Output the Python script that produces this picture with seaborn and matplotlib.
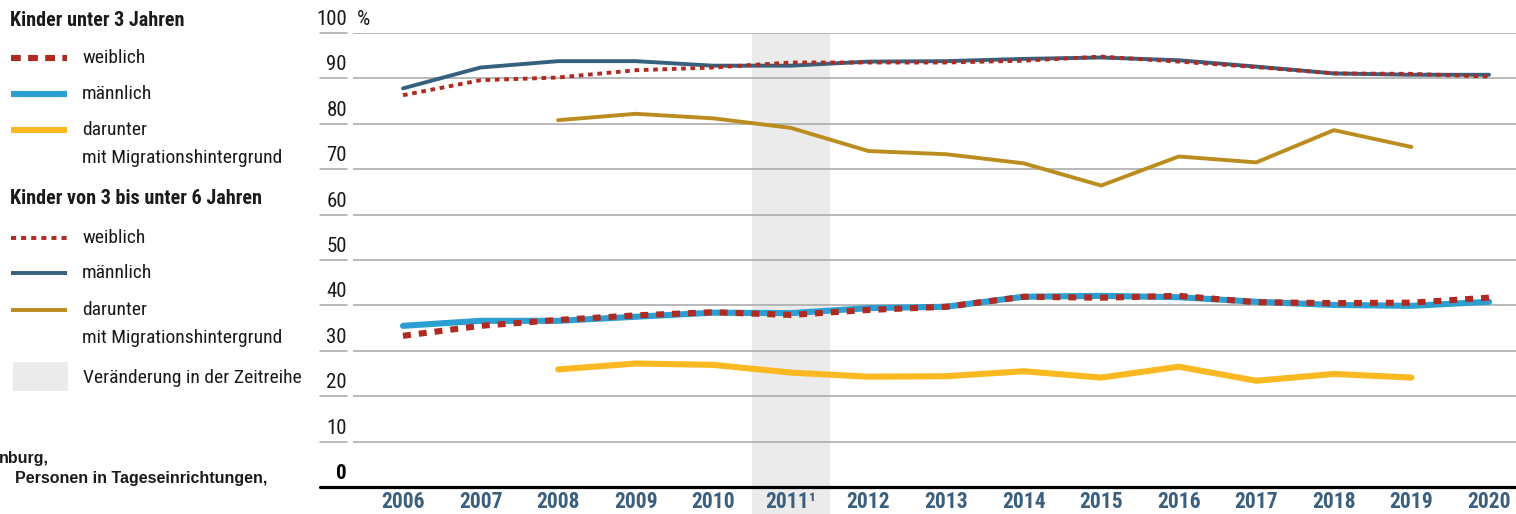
import numpy as np
import pandas as pd
import seaborn as sns
import matplotlib.pyplot as plt
import matplotlib.transforms as mtransforms
from matplotlib import font_manager
from matplotlib.lines import Line2D
from matplotlib.patches import Rectangle

# Daten (Betreuungsquote in %)
jahre = list(range(2006, 2021))
jahr_labels = ["2006", "2007", "2008", "2009", "2010", "2011\u00b9", "2012", "2013",
               "2014", "2015", "2016", "2017", "2018", "2019", "2020"]

u3_weiblich = [33.3, 35.5, 36.8, 37.8, 38.5, 37.9, 39.0, 39.7, 41.9, 41.7, 42.1, 40.7, 40.5, 40.6, 41.7]
u3_maennlich = [35.5, 36.6, 36.6, 37.5, 38.4, 38.3, 39.4, 39.7, 41.9, 42.1, 41.8, 40.8, 40.1, 39.9, 40.8]
u3_migration = [np.nan, np.nan, 25.9, 27.2, 26.9, 25.2, 24.3, 24.4, 25.5, 24.1, 26.5, 23.4, 24.9, 24.1, np.nan]

u6_weiblich = [86.3, 89.6, 90.2, 91.8, 92.4, 93.5, 93.5, 93.5, 93.9, 94.8, 93.7, 92.5, 91.1, 91.0, 90.4]
u6_maennlich = [87.8, 92.4, 93.8, 93.8, 92.8, 92.8, 93.7, 93.8, 94.3, 94.6, 94.0, 92.6, 91.1, 90.8, 90.8]
u6_migration = [np.nan, np.nan, 80.8, 82.2, 81.2, 79.1, 74.0, 73.3, 71.3, 66.4, 72.8, 71.5, 78.6, 74.9, np.nan]

bruch_jahr = 2011

ROT = "#b02a22"
HELLBLAU = "#2b9fd1"
GELB = "#fbb921"
DUNKELBLAU = "#35617e"
GOLD = "#bb8c1e"
GRAU = "#a6a6a6"
TEXT = "#1a1a1a"

df = pd.DataFrame({
    "jahr": jahre,
    "u3_w": u3_weiblich, "u3_m": u3_maennlich, "u3_mig": u3_migration,
    "u6_w": u6_weiblich, "u6_m": u6_maennlich, "u6_mig": u6_migration,
})

# schmale Schrift suchen, sonst Liberation Sans
installiert = {f.name for f in font_manager.fontManager.ttflist}
schmal = "Liberation Sans"
for kandidat in ["Liberation Sans Narrow", "Roboto Condensed", "DejaVu Sans Condensed",
                 "Open Sans Condensed", "Noto Sans Condensed"]:
    if kandidat in installiert:
        schmal = kandidat
        break

sns.set_theme(style="white")
plt.rcParams["font.family"] = [schmal, "DejaVu Sans"]
k = 1.0 if schmal != "Liberation Sans" else 0.88
FS = 14 * k        # Legende
FS_TITEL = 14.5 * k
FS_ACHSE = 15 * k
FS_JAHR = 15.5 * k

W, H = 1516, 514
fig = plt.figure(figsize=(W / 100, H / 100), dpi=100)


def fx(px):
    return px / W


def fy(py):
    return 1 - py / H


ax = fig.add_axes([fx(353), fy(487), (1516 - 353) / W, (487 - 33) / H])

# Bruch in der Zeitreihe
trans_x = mtransforms.blended_transform_factory(ax.transData, ax.transAxes)
ax.add_patch(Rectangle((bruch_jahr - 0.5, -0.06), 1, 1.06, transform=trans_x,
                       facecolor="#ebebeb", edgecolor="none", clip_on=False, zorder=0))

# Linien
sns.lineplot(data=df, x="jahr", y="u3_m", ax=ax, color=HELLBLAU, lw=4.4, zorder=3)
sns.lineplot(data=df, x="jahr", y="u3_w", ax=ax, color=ROT, lw=4.4, zorder=4,
             dashes=False, linestyle=(0, (1.3, 1.3)))
sns.lineplot(data=df, x="jahr", y="u3_mig", ax=ax, color=GELB, lw=4.4, zorder=3)
sns.lineplot(data=df, x="jahr", y="u6_m", ax=ax, color=DUNKELBLAU, lw=2.8, zorder=3)
sns.lineplot(data=df, x="jahr", y="u6_w", ax=ax, color=ROT, lw=2.8, zorder=4,
             dashes=False, linestyle=(0, (1.2, 1.2)))
sns.lineplot(data=df, x="jahr", y="u6_mig", ax=ax, color=GOLD, lw=2.8, zorder=3)

ax.set_xlim(2006 - 50 / 77.6, 2020 + 27 / 77.6)
ax.set_ylim(0, 100)
ax.set_xlabel("")
ax.set_ylabel("")
for s in ax.spines.values():
    s.set_visible(False)

yticks = list(range(0, 101, 10))
ax.set_yticks(yticks)
ax.set_yticklabels([])
ax.tick_params(axis="y", length=0)
ax.grid(axis="y", color=GRAU, lw=1.1)
ax.grid(axis="x", visible=False)

trans_y = mtransforms.blended_transform_factory(ax.transAxes, ax.transData)
lab_trans = mtransforms.offset_copy(trans_y, fig=fig, x=0, y=4, units="dots")
for v in yticks:
    if v == 0:
        ax.plot([-0.0284, 1], [0, 0], transform=trans_y, color="black", lw=2.3,
                clip_on=False, zorder=5)
        ax.text(-0.0052, v, "0", transform=lab_trans, ha="right", va="bottom",
                fontsize=FS_ACHSE, fontweight="bold", color="black")
    else:
        ax.plot([-0.0284, -0.0052], [v, v], transform=trans_y, color=GRAU, lw=1.1,
                clip_on=False)
        ax.text(-0.0052, v, str(v), transform=lab_trans, ha="right", va="bottom",
                fontsize=FS_ACHSE, color=TEXT)
ax.text(0.0034, 100, "%", transform=lab_trans, ha="left", va="bottom",
        fontsize=FS_ACHSE, color=TEXT)

ax.set_xticks(jahre)
ax.set_xticklabels(jahr_labels, fontsize=FS_JAHR, fontweight="bold", color="#3a5f7f")
ax.tick_params(axis="x", length=0, pad=3)

# Legende links
fig.text(fx(10), fy(20), "Kinder unter 3 Jahren", fontsize=FS_TITEL, fontweight="bold",
         va="center", ha="left", color=TEXT)
fig.text(fx(10), fy(198), "Kinder von 3 bis unter 6 Jahren", fontsize=FS_TITEL,
         fontweight="bold", va="center", ha="left", color=TEXT)

eintraege = [
    (58, ROT, 4.4, (0, (1.6, 1.2)), "weiblich"),
    (94, HELLBLAU, 4.4, "-", "männlich"),
    (130, GELB, 4.4, "-", "darunter"),
    (238, ROT, 2.8, (0, (1.3, 1.3)), "weiblich"),
    (273, DUNKELBLAU, 2.8, "-", "männlich"),
    (310, GOLD, 2.8, "-", "darunter"),
]
for py, farbe, lw, ls, txt in eintraege:
    fig.add_artist(Line2D([fx(11), fx(67)], [fy(py), fy(py)], color=farbe, lw=lw,
                          linestyle=ls, solid_capstyle="butt"))
    fig.text(fx(82), fy(py), txt, fontsize=FS, va="center", ha="left", color=TEXT)
for py in (158, 338):
    fig.text(fx(82), fy(py), "mit Migrationshintergrund", fontsize=FS, va="center",
             ha="left", color=TEXT)

fig.add_artist(Rectangle((fx(13), fy(391)), fx(55), (391 - 362) / H,
                         facecolor="#ebebeb", edgecolor="none"))
fig.text(fx(83), fy(378), "Veränderung in der Zeitreihe", fontsize=FS, va="center",
         ha="left", color=TEXT)

# abgeschnittener Quellentext
fig.text(fx(-1), fy(458), "nburg,", fontsize=11.5, fontweight="bold",
         family="Liberation Sans", va="center", ha="left", color=TEXT)
fig.text(fx(15), fy(478), "Personen in Tageseinrichtungen,", fontsize=11.5,
         fontweight="bold", family="Liberation Sans", va="center", ha="left", color=TEXT)

fig.savefig("out.png", dpi=100)
